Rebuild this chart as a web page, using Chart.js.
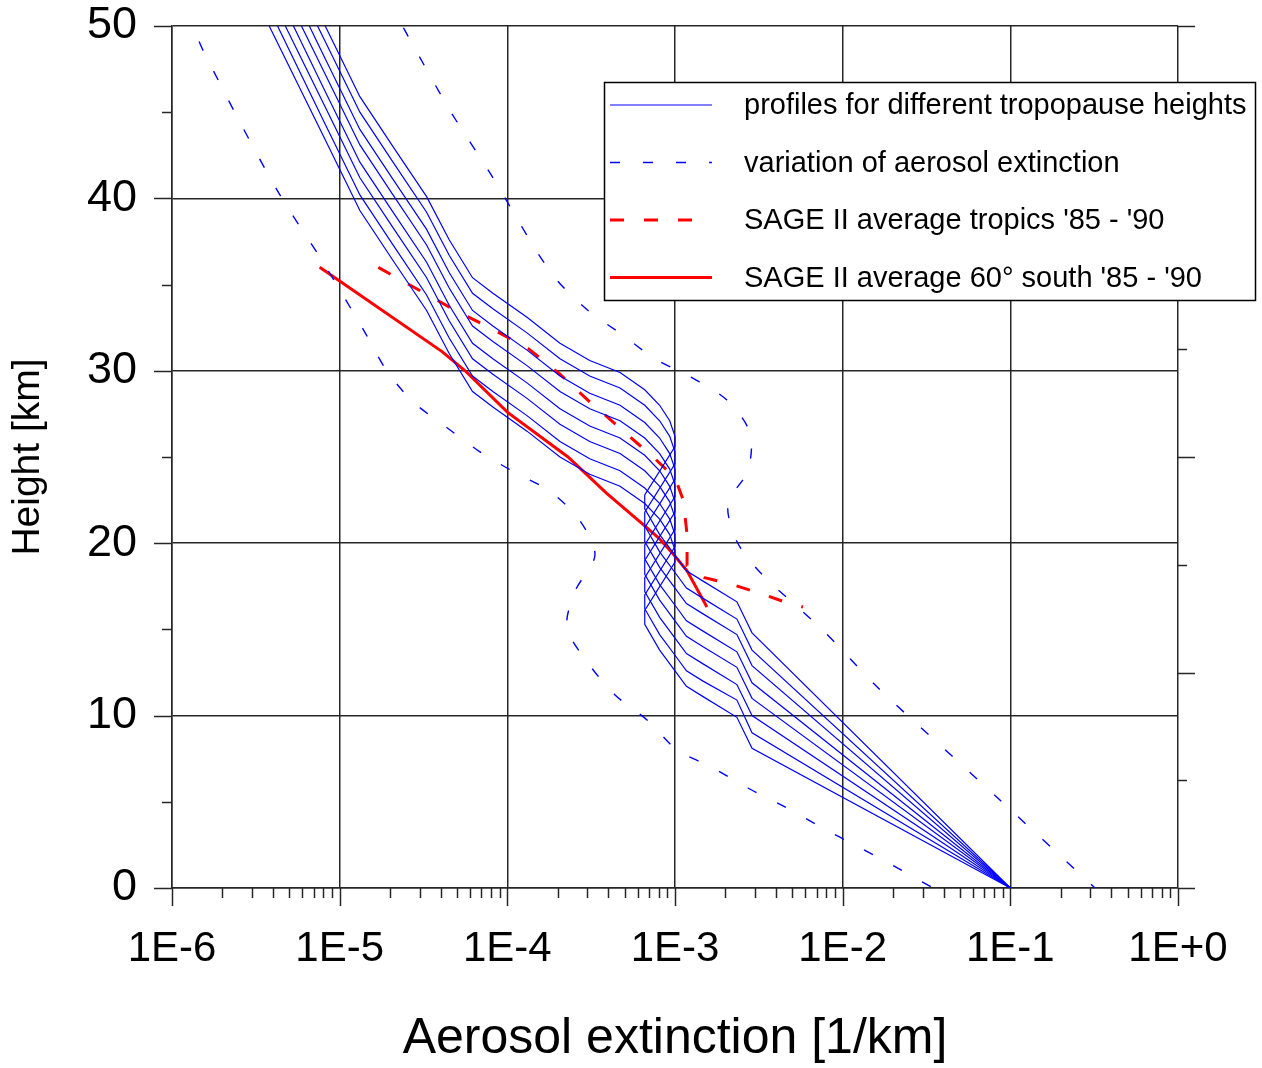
<!DOCTYPE html>
<html>
<head>
<meta charset="utf-8">
<title>Aerosol extinction profiles</title>
<script src="https://cdn.jsdelivr.net/npm/chart.js@4.4.1/dist/chart.umd.min.js"></script>
<style>
    html, body { margin: 0; padding: 0; background: #ffffff; }
    canvas { display: block; }
</style>
</head>
<body>
<canvas id="extinctionChart" width="1262" height="1068"></canvas>
<script>
// Extinction nodes [1/km] shared by all tropopause profiles
var profileExtinction = [
    1e-1, 2.88e-3, 2.34e-3, 1.47e-3, 1.17e-3, 1.0e-3, 8.1e-4, 6.6e-4, 6.6e-4,
    1.0e-3, 1.0e-3, 9.3e-4, 8.1e-4, 6.6e-4, 4.7e-4, 3.1e-4, 2.06e-4, 1.31e-4,
    8.2e-5, 6.2e-5, 4.5e-5, 3.3e-5, 2.08e-5, 1.32e-5, 8.2e-6, 3.8e-6
];
// Heights [km] of those nodes, one row per tropopause height (lowest first)
var profileHeights = [
    [0, 8.1, 9.9, 11.1, 11.7, 12.6, 13.8, 15.3, 16.1, 18.9, 19.6, 20.5, 21.4, 22.3, 23.3, 24.0, 25.0, 26.5, 27.9, 28.8, 31.0, 33.5, 36.4, 39.3, 43.4, 50.0],
    [0, 9.0, 10.9, 12.0, 12.6, 13.5, 14.7, 16.2, 17.0, 19.8, 20.5, 21.4, 22.3, 23.2, 24.2, 24.9, 25.9, 27.4, 28.8, 29.7, 31.9, 34.4, 37.3, 40.2, 44.3, 51.0],
    [0, 10.0, 11.8, 13.0, 13.6, 14.5, 15.7, 17.2, 18.0, 20.8, 21.5, 22.4, 23.3, 24.2, 25.2, 25.9, 26.9, 28.4, 29.8, 30.7, 32.9, 35.4, 38.3, 41.2, 45.3, 51.9],
    [0, 11.0, 12.8, 14.0, 14.6, 15.5, 16.7, 18.2, 19.0, 21.8, 22.4, 23.3, 24.2, 25.1, 26.1, 26.8, 27.8, 29.3, 30.7, 31.6, 33.8, 36.3, 39.2, 42.1, 46.2, 52.9],
    [0, 11.9, 13.7, 14.9, 15.5, 16.4, 17.6, 19.1, 19.9, 22.7, 23.4, 24.3, 25.2, 26.1, 27.1, 27.8, 28.8, 30.3, 31.7, 32.6, 34.8, 37.3, 40.2, 43.1, 47.2, 53.8],
    [0, 12.9, 14.7, 15.9, 16.5, 17.4, 18.6, 20.1, 20.9, 23.7, 24.3, 25.2, 26.1, 27.0, 28.0, 28.7, 29.7, 31.2, 32.6, 33.5, 35.7, 38.2, 41.1, 44.0, 48.1, 54.8],
    [0, 13.8, 15.6, 16.8, 17.4, 18.3, 19.5, 21.0, 21.8, 24.6, 25.3, 26.2, 27.1, 28.0, 29.0, 29.7, 30.7, 32.2, 33.6, 34.5, 36.7, 39.2, 42.1, 45.0, 49.1, 55.7],
    [0, 14.8, 16.6, 17.8, 18.4, 19.3, 20.5, 22.0, 22.8, 25.6, 26.2, 27.1, 28.0, 28.9, 29.9, 30.6, 31.6, 33.1, 34.5, 35.4, 37.6, 40.1, 43.0, 45.9, 50.0, 56.7]
];

// Envelope of the aerosol extinction variation (lower and upper bound)
var variationLowExt = [
    1.45e-6, 1.53e-6, 2.55e-6, 4.4e-6, 7.96e-6, 1.42e-5, 1.91e-5, 2.74e-5, 4.37e-5,
    6.87e-5, 1.11e-4, 1.8e-4, 2.71e-4, 3.33e-4, 2.53e-4, 2.27e-4, 3.03e-4, 4.39e-4,
    6.9e-4, 1.03e-3, 1.66e-3, 2.72e-3, 4.53e-3, 7.53e-3, 1.23e-2, 2.0e-2, 3.46e-2
];
var variationLowHeight = [
    49.1, 48.6, 44.4, 40.2, 36.3, 32.2, 30.0, 28.2, 26.7,
    25.3, 24.1, 23.0, 21.3, 19.3, 17.2, 15.1, 13.05, 11.2,
    9.7, 8.0, 7.0, 5.8, 4.7, 3.5, 2.4, 1.3, 0
];
var variationHighExt = [
    2.4e-5, 2.56e-5, 4.55e-5, 8.2e-5, 1.46e-4, 2.0e-4, 3.03e-4, 4.83e-4, 7.6e-4,
    1.26e-3, 2.04e-3, 2.8e-3, 2.72e-3, 2.07e-3, 2.34e-3, 3.3e-3, 7.53e-3, 1.63e-2,
    3.8e-2, 8.67e-2, 0.192, 0.32
];
var variationHighHeight = [
    49.9, 49.4, 45.1, 41.2, 37.1, 35.2, 33.5, 32.1, 30.7,
    29.6, 28.3, 26.4, 24.2, 22.3, 20.1, 18.2, 15.0, 11.6,
    8.3, 5.1, 2.0, 0
];

// SAGE II climatologies 1985 - 1990
var sageTropicsExt = [
    1.7e-5, 4.7e-5, 8.2e-5, 1.33e-4, 2.06e-4, 3.1e-4, 4.8e-4, 7.4e-4, 1.0e-3,
    1.12e-3, 1.18e-3, 1.18e-3, 1.5e-3, 2.2e-3, 3.2e-3, 4.5e-3, 5.8e-3
];
var sageTropicsHeight = [
    36.0, 33.6, 32.4, 31.3, 29.8, 28.2, 26.6, 25.0, 23.8,
    22.5, 20.5, 18.7, 18.0, 17.6, 17.1, 16.6, 16.3
];
var sageSouthExt = [
    7.6e-6, 4.1e-5, 5.6e-5, 1.0e-4, 2.3e-4, 3.9e-4, 6.6e-4, 8.0e-4, 9.7e-4, 1.18e-3, 1.55e-3
];
var sageSouthHeight = [
    36.0, 31.1, 30.0, 27.6, 25.0, 22.9, 21.0, 20.3, 19.4, 18.4, 16.3
];

// Axis ticks
var decadeTicks = [1e-6, 1e-5, 1e-4, 1e-3, 1e-2, 1e-1, 1];
var heightTicks = [0, 10, 20, 30, 40, 50];
var heightMinorTicks = [5, 15, 25, 35, 45];
var rightAxisTicks = [0, 6.25, 12.5, 18.75, 25, 31.25, 37.5, 43.75, 50];

var axisColour = '#262626';
var profileBlue = '#0000ff';
var sageRed = '#ff0000';

function toPoints(xs, ys) {
    var points = [];
    for (var i = 0; i < xs.length; i++) {
        points.push({x: xs[i], y: ys[i]});
    }
    return points;
}

function formatDecade(value) {
    var exp = Math.round(Math.log10(value));
    return '1E' + (exp >= 0 ? '+' : '') + exp;
}

var datasets = [
    {
        label: 'variation low',
        data: toPoints(variationLowExt, variationLowHeight),
        borderColor: profileBlue, borderWidth: 1.4, borderDash: [10, 23], tension: 0.3
    },
    {
        label: 'variation high',
        data: toPoints(variationHighExt, variationHighHeight),
        borderColor: profileBlue, borderWidth: 1.4, borderDash: [10, 23], tension: 0.3
    }
];
for (var p = 0; p < profileHeights.length; p++) {
    datasets.push({
        label: 'profile ' + (p + 1),
        data: toPoints(profileExtinction, profileHeights[p]),
        borderColor: profileBlue, borderWidth: 1.2, tension: 0
    });
}
datasets.push({
    label: 'SAGE II tropics',
    data: toPoints(sageTropicsExt, sageTropicsHeight),
    borderColor: sageRed, borderWidth: 3, borderDash: [14, 20], tension: 0
});
datasets.push({
    label: 'SAGE II 60S',
    data: toPoints(sageSouthExt, sageSouthHeight),
    borderColor: sageRed, borderWidth: 3, tension: 0
});
datasets.forEach(function (ds) {
    ds.showLine = true;
    ds.pointRadius = 0;
    ds.fill = false;
});

var legendEntries = [
    {text: 'profiles for different tropopause heights', colour: profileBlue, width: 1.2, dash: []},
    {text: 'variation of aerosol extinction', colour: profileBlue, width: 1.4, dash: [10, 23]},
    {text: "SAGE II average tropics '85 - '90", colour: sageRed, width: 3, dash: [14, 20]},
    {text: "SAGE II average 60\u00b0 south '85 - '90", colour: sageRed, width: 3, dash: []}
];

function strokeLine(ctx, x1, y1, x2, y2) {
    ctx.beginPath();
    ctx.moveTo(x1, y1);
    ctx.lineTo(x2, y2);
    ctx.stroke();
}

// Tick marks on all four sides plus the boxed legend
var frameAndLegend = {
    id: 'frameAndLegend',
    afterDatasetsDraw: function (chart) {
        var ctx = chart.ctx;
        var xs = chart.scales.x;
        var ys = chart.scales.y;
        var area = chart.chartArea;
        ctx.save();
        ctx.strokeStyle = axisColour;
        ctx.lineWidth = 1.5;

        // log ticks below the x axis
        for (var d = -6; d <= 0; d++) {
            for (var m = 1; m <= 9; m++) {
                var v = m * Math.pow(10, d);
                if (v > 1.0000001) break;
                var px = Math.round(xs.getPixelForValue(v)) + 0.5;
                strokeLine(ctx, px, area.bottom, px, area.bottom + (m === 1 ? 18 : 10));
            }
        }
        // left ticks
        heightTicks.forEach(function (h) {
            var py = Math.round(ys.getPixelForValue(h)) + 0.5;
            strokeLine(ctx, area.left - 18, py, area.left, py);
        });
        heightMinorTicks.forEach(function (h) {
            var py = Math.round(ys.getPixelForValue(h)) + 0.5;
            strokeLine(ctx, area.left - 10, py, area.left, py);
        });
        // right ticks
        rightAxisTicks.forEach(function (h, i) {
            var py = Math.round(ys.getPixelForValue(h)) + 0.5;
            strokeLine(ctx, area.right, py, area.right + (i % 2 === 0 ? 17 : 9), py);
        });

        // legend box
        var bx = 604.5, by = 82.5, bw = 651, bh = 218;
        ctx.fillStyle = '#ffffff';
        ctx.fillRect(bx, by, bw, bh);
        ctx.strokeStyle = '#000000';
        ctx.lineWidth = 1.5;
        ctx.strokeRect(bx, by, bw, bh);

        ctx.font = '29px "Liberation Sans", Arial, sans-serif';
        ctx.textBaseline = 'middle';
        ctx.textAlign = 'left';
        legendEntries.forEach(function (entry, i) {
            var ly = 105 + i * 57.5;
            ctx.strokeStyle = entry.colour;
            ctx.lineWidth = entry.width;
            ctx.setLineDash(entry.dash);
            strokeLine(ctx, 610, ly, 712, ly);
            ctx.setLineDash([]);
            ctx.fillStyle = '#000000';
            ctx.fillText(entry.text, 744, ly + 1);
        });
        ctx.restore();
    }
};

Chart.defaults.color = '#000000';
Chart.defaults.font.family = '"Liberation Sans", Arial, sans-serif';

var extinctionChart = new Chart(document.getElementById('extinctionChart'), {
    type: 'scatter',
    data: {datasets: datasets},
    options: {
        responsive: false,
        animation: false,
        devicePixelRatio: 1,
        layout: {padding: {top: 26, right: 84, left: 0, bottom: 0}},
        plugins: {
            legend: {display: false},
            tooltip: {enabled: false}
        },
        scales: {
            x: {
                type: 'logarithmic',
                min: 1e-6,
                max: 1,
                afterBuildTicks: function (scale) {
                    scale.ticks = decadeTicks.map(function (v) { return {value: v}; });
                },
                afterFit: function (scale) {
                    // fixed axis band; end labels may overhang the plot edges
                    scale.height = 180;
                    scale.paddingLeft = 0;
                    scale.paddingRight = 0;
                },
                ticks: {
                    autoSkip: false,
                    maxRotation: 0,
                    padding: 36,
                    font: {size: 42},
                    callback: function (value) { return formatDecade(value); }
                },
                grid: {color: axisColour, lineWidth: 1.5, drawTicks: false},
                border: {display: true, color: axisColour, width: 1.5},
                title: {
                    display: true,
                    text: 'Aerosol extinction [1/km]',
                    font: {size: 50, lineHeight: 1.1},
                    padding: {top: 0, bottom: 1}
                }
            },
            y: {
                type: 'linear',
                min: 0,
                max: 50,
                afterBuildTicks: function (scale) {
                    scale.ticks = heightTicks.map(function (v) { return {value: v}; });
                },
                afterFit: function (scale) {
                    scale.width = 172;
                    scale.paddingTop = 0;
                    scale.paddingBottom = 0;
                },
                ticks: {
                    padding: 35,
                    font: {size: 45}
                },
                grid: {color: axisColour, lineWidth: 1.5, drawTicks: false},
                border: {display: true, color: axisColour, width: 1.5},
                title: {
                    display: true,
                    text: 'Height [km]',
                    font: {size: 39, lineHeight: 1.2},
                    padding: {top: 5, bottom: 0}
                }
            }
        }
    },
    plugins: [frameAndLegend]
});
</script>
</body>
</html>
